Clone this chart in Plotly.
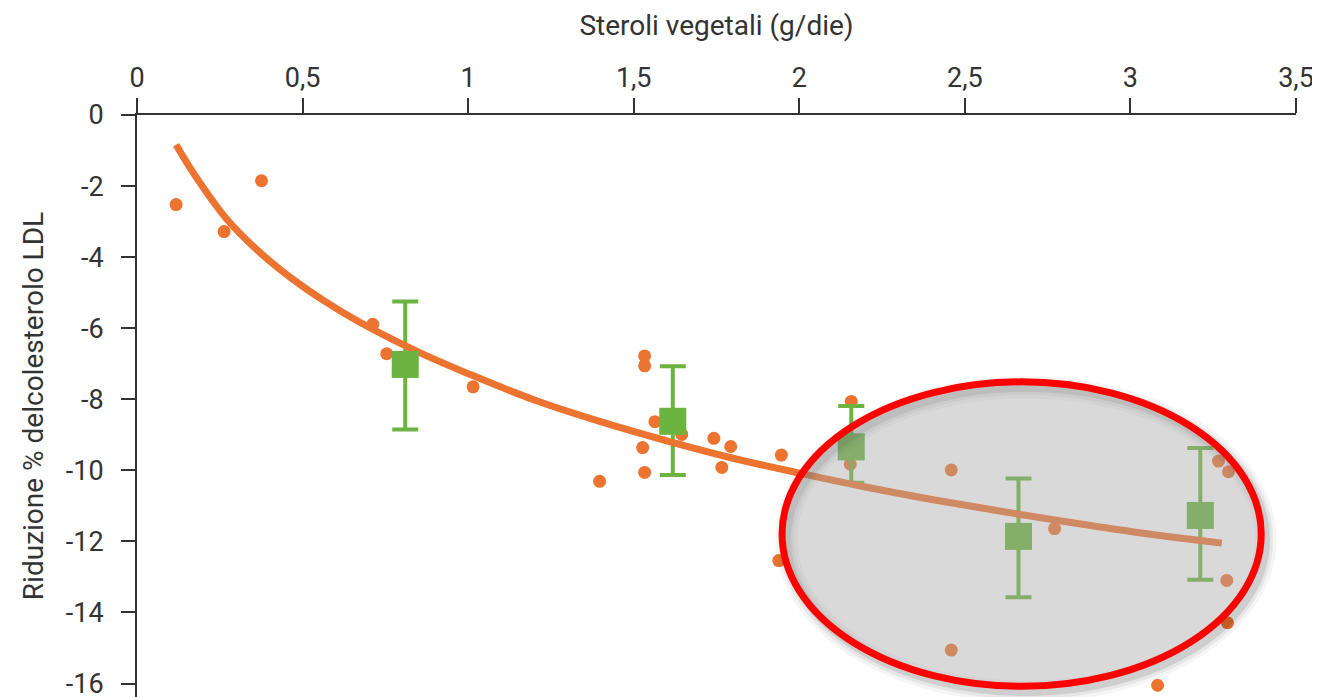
import plotly.graph_objects as go

# ---------------- data ----------------
x_tick_vals = [0, 0.5, 1, 1.5, 2, 2.5, 3, 3.5]
x_tick_text = ["0", "0,5", "1", "1,5", "2", "2,5", "3", "3,5"]
y_tick_vals = [0, -2, -4, -6, -8, -10, -12, -14, -16]
y_tick_text = ["0", "-2", "-4", "-6", "-8", "-10", "-12", "-14", "-16"]

# individual studies (orange dots)
study_x = [0.118, 0.263, 0.376, 0.712, 0.754, 1.015, 1.533, 1.533, 1.564, 1.527,
           1.533, 1.397, 1.645, 1.742, 1.793, 1.766, 1.946, 2.157, 2.154, 1.938,
           2.459, 2.771, 2.459, 3.082, 3.266, 3.296, 3.291, 3.293]
study_y = [-2.52, -3.28, -1.85, -5.89, -6.72, -7.65, -6.78, -7.06, -8.63, -9.36,
           -10.06, -10.31, -8.99, -9.10, -9.33, -9.92, -9.57, -8.06, -9.83, -12.54,
           -9.99, -11.64, -15.06, -16.05, -9.74, -10.04, -13.10, -14.29]

# fitted curve (orange line)
curve_x = [0.118, 0.17, 0.27, 0.37, 0.47, 0.57, 0.67, 0.77, 0.87, 1.0, 1.2, 1.4,
           1.6, 1.8, 2.0, 2.2, 2.4, 2.6, 2.8, 3.0, 3.276]
curve_y = [-0.84, -1.63, -2.92, -3.86, -4.62, -5.26, -5.82, -6.31, -6.76, -7.28,
           -8.02, -8.63, -9.17, -9.66, -10.08, -10.47, -10.82, -11.14, -11.44,
           -11.72, -12.05]

# grouped means with error bars (green squares)
group_x = [0.810, 1.618, 2.157, 2.662, 3.211]
group_y = [-7.02, -8.62, -9.34, -11.86, -11.27]
group_err_plus = [1.77, 1.55, 1.15, 1.63, 1.90]
group_err_minus = [1.83, 1.51, 1.01, 1.71, 1.81]

# highlight ellipse (data-space bounds)
ellipse_x = [1.948, 3.395]
ellipse_y = [-16.08, -7.51]

ORANGE = "#ED7331"
GREEN = "#6CB33F"
TEXT = "#333333"

fig = go.Figure()

fig.add_trace(go.Scatter(
    x=study_x, y=study_y, mode="markers",
    marker=dict(color=ORANGE, size=13, line=dict(width=0)),
    hoverinfo="x+y", showlegend=False, cliponaxis=False))

# error bars (drawn beneath the curve)
fig.add_trace(go.Scatter(
    x=group_x, y=group_y, mode="markers",
    marker=dict(color="rgba(0,0,0,0)", size=1),
    error_y=dict(type="data", symmetric=False, array=group_err_plus,
                 arrayminus=group_err_minus, color=GREEN, thickness=4, width=13),
    hoverinfo="skip", showlegend=False))

fig.add_trace(go.Scatter(
    x=curve_x, y=curve_y, mode="lines",
    line=dict(color=ORANGE, width=7, shape="spline", smoothing=1.0),
    hoverinfo="skip", showlegend=False))

fig.add_trace(go.Scatter(
    x=group_x, y=group_y, mode="markers",
    marker=dict(color=GREEN, size=27, symbol="square", line=dict(width=0)),
    hoverinfo="x+y", showlegend=False))

# ---- highlight ellipse with soft drop shadow ----
dx, dy = 0.013, -0.15
for w, a in [(22, 0.04), (15, 0.06), (9, 0.10)]:
    fig.add_shape(type="circle", xref="x", yref="y", layer="above",
                  x0=ellipse_x[0] + dx, x1=ellipse_x[1] + dx,
                  y0=ellipse_y[0] + dy, y1=ellipse_y[1] + dy,
                  line=dict(color=f"rgba(0,0,0,{a})", width=w),
                  fillcolor="rgba(0,0,0,0)")
fig.add_shape(type="circle", xref="x", yref="y", layer="above",
              x0=ellipse_x[0], x1=ellipse_x[1], y0=ellipse_y[0], y1=ellipse_y[1],
              line=dict(color="#FF0000", width=7),
              fillcolor="rgba(166,166,166,0.43)")

# the page body adds an 8px margin, so the figure is sized/offset to compensate
fig.update_layout(
    width=1312, height=689,
    margin=dict(l=129, r=24, t=107, b=0, pad=0),
    paper_bgcolor="white", plot_bgcolor="white",
    font=dict(family="Roboto", size=27, color=TEXT),
    showlegend=False,
)
fig.update_xaxes(
    side="top", range=[0, 3.5], automargin=False,
    tickmode="array", tickvals=x_tick_vals, ticktext=x_tick_text,
    showgrid=False, zeroline=False,
    showline=True, linecolor=TEXT, linewidth=2,
    ticks="outside", ticklen=15, tickwidth=2, tickcolor=TEXT,
    ticklabelstandoff=0, ticklabeloverflow="allow",
    tickfont=dict(family="Roboto", size=27, color=TEXT),
    title=dict(text="Steroli vegetali (g/die)", standoff=18,
               font=dict(family="Roboto", size=28, color=TEXT)),
)
fig.update_yaxes(
    range=[-16.38, 0], automargin=False,
    tickmode="array", tickvals=y_tick_vals, ticktext=y_tick_text,
    showgrid=False, zeroline=False,
    showline=True, linecolor=TEXT, linewidth=2,
    ticks="outside", ticklen=14, tickwidth=2, tickcolor=TEXT,
    ticklabelstandoff=12, ticklabeloverflow="allow",
    tickfont=dict(family="Roboto", size=27, color=TEXT),
    title=dict(text="Riduzione % delcolesterolo LDL", standoff=14,
               font=dict(family="Roboto", size=28, color=TEXT)),
)

fig.write_html("out.html")
